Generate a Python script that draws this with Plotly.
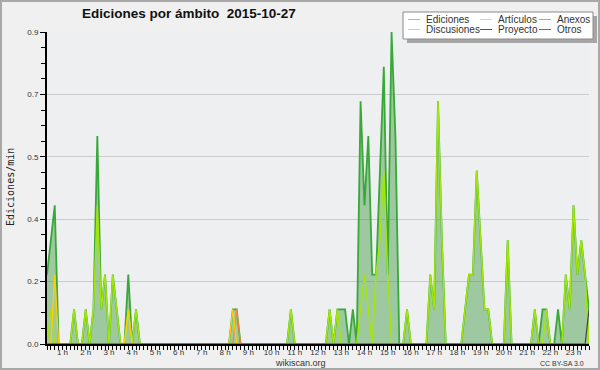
import plotly.graph_objects as go

# 10-minute bins (index k -> time k*10 min), visible from k=2 (00:20) to k=142 (23:40)
bin_start = 2
bin_end = 142

ediciones = [
    0.2, 0.3, 0.4, 0, 0, 0, 0, 0.1, 0, 0,            # k2-11
    0.1, 0, 0.1, 0.6, 0.1, 0.2, 0, 0.2, 0.1, 0,      # k12-21
    0, 0.2, 0, 0.1, 0, 0, 0, 0, 0, 0,                # k22-31
    0, 0, 0, 0, 0, 0, 0, 0, 0, 0,                    # k32-41
    0, 0, 0, 0, 0, 0, 0, 0, 0.1, 0.1,                # k42-51
    0, 0, 0, 0, 0, 0, 0, 0, 0, 0,                    # k52-61
    0, 0, 0, 0.1, 0, 0, 0, 0, 0, 0,                  # k62-71
    0, 0, 0, 0.1, 0, 0.1, 0.1, 0.1, 0, 0.1,          # k72-81
    0, 0.7, 0.4, 0.6, 0.2, 0.2, 0.5, 0.8, 0.2, 0.9,  # k82-91
    0.6, 0, 0, 0.1, 0, 0, 0, 0, 0, 0.2,              # k92-101
    0.1, 0.7, 0.3, 0, 0, 0, 0, 0, 0.1, 0.2,          # k102-111
    0.2, 0.5, 0.3, 0.1, 0.1, 0, 0, 0, 0, 0.3,        # k112-121
    0, 0, 0, 0, 0, 0, 0.1, 0, 0.1, 0.1,              # k122-131
    0, 0, 0.1, 0, 0.2, 0.1, 0.4, 0.2, 0.3, 0.2,      # k132-141
    0.1,                                             # k142
]

articulos = [
    0, 0.1, 0, 0, 0, 0, 0, 0.1, 0, 0,
    0.1, 0, 0.1, 0.4, 0.1, 0.2, 0, 0.2, 0.1, 0,
    0, 0.1, 0, 0.1, 0, 0, 0, 0, 0, 0,
    0, 0, 0, 0, 0, 0, 0, 0, 0, 0,
    0, 0, 0, 0, 0, 0, 0, 0, 0, 0,
    0, 0, 0, 0, 0, 0, 0, 0, 0, 0,
    0, 0, 0, 0.1, 0, 0, 0, 0, 0, 0,
    0, 0, 0, 0.1, 0, 0.1, 0, 0, 0, 0,
    0, 0.1, 0.2, 0.1, 0, 0.2, 0.3, 0.5, 0.2, 0,
    0, 0, 0, 0.1, 0, 0, 0, 0, 0, 0.2,
    0.1, 0.7, 0.3, 0, 0, 0, 0, 0, 0.1, 0.2,
    0.2, 0.5, 0.3, 0.1, 0.1, 0, 0, 0, 0, 0.3,
    0, 0, 0, 0, 0, 0, 0.1, 0, 0, 0.1,
    0, 0, 0, 0, 0.2, 0.1, 0.4, 0.2, 0.3, 0.2,
    0,
]

# sparse series: bin index -> value
discusiones_vals = {4: 0.2, 23: 0.1, 50: 0.1}
anexos_vals = {51: 0.1}
proyecto_vals = {142: 0.1}
otros_vals = {}

hour_ticks = list(range(1, 24))
hour_labels = [f"{h} h" for h in hour_ticks]

y_ticks = [0, 0.18, 0.36, 0.54, 0.72, 0.9]
y_labels = ["0.0", "0.2", "0.4", "0.5", "0.7", "0.9"]

legend_items = [
    ("Ediciones", "#8ccf8c"), ("Artículos", "#ccee55"), ("Anexos", "#ff8a55"),
    ("Discusiones", "#ffcc44"), ("Proyecto", "#555555"), ("Otros", "#9944ee"),
]

# ---------------------------------------------------------------
times = [k / 6 for k in range(bin_start, bin_end + 1)]


def sparse(d):
    return [d.get(k, 0.0) for k in range(bin_start, bin_end + 1)]


discusiones = sparse(discusiones_vals)
anexos = sparse(anexos_vals)
proyecto = sparse(proyecto_vals)
otros = sparse(otros_vals)

W, H = 600, 370
L, R, T, B = 47, 589, 32, 344


def px(x):
    return (x - L) / (R - L)


def py(y):
    return (B - y) / (B - T)


fig = go.Figure()
fig.add_trace(go.Scatter(x=times, y=ediciones, mode="lines",
                         line=dict(color="#38a838", width=1.8),
                         fill="tozeroy", fillcolor="rgba(34,139,34,0.39)"))
fig.add_trace(go.Scatter(x=times, y=articulos, mode="lines",
                         line=dict(color="#a3e60a", width=1.5)))
fig.add_trace(go.Scatter(x=times, y=anexos, mode="lines",
                         line=dict(color="#ff8040", width=1.2)))
fig.add_trace(go.Scatter(x=times, y=discusiones, mode="lines",
                         line=dict(color="#ffcc00", width=1.4)))
fig.add_trace(go.Scatter(x=times, y=proyecto, mode="lines",
                         line=dict(color="#444444", width=1.2)))
fig.add_trace(go.Scatter(x=times, y=otros, mode="lines",
                         line=dict(color="#9933ff", width=1.2)))

font_main = "Liberation Sans, Arial, sans-serif"

fig.update_layout(
    width=W, height=H,
    margin=dict(l=L, r=W - R, t=T, b=H - B, pad=0),
    paper_bgcolor="#f0f0f0", plot_bgcolor="#eeeff1",
    showlegend=False,
    font=dict(family=font_main, size=8, color="#333333"),
)

fig.update_xaxes(
    range=[bin_start / 6, bin_end / 6],
    tickmode="array", tickvals=hour_ticks, ticktext=hour_labels,
    ticks="outside", ticklen=4, tickwidth=1, tickcolor="#000000",
    ticklabelstandoff=-5,
    showline=True, linecolor="#000000", linewidth=2,
    showgrid=False, zeroline=False,
    tickfont=dict(size=8, color="#333333", family=font_main),
    minor=dict(dtick=1 / 6, tick0=0, ticks="outside", ticklen=4,
               tickcolor="#000000", tickwidth=1, showgrid=False),
)

fig.update_yaxes(
    range=[0, 0.9],
    tickmode="array", tickvals=y_ticks, ticktext=y_labels,
    ticks="outside", ticklen=5, tickwidth=1, tickcolor="#000000",
    showline=True, linecolor="#000000", linewidth=2,
    showgrid=True, gridcolor="#cccccc", gridwidth=1, zeroline=False,
    tickfont=dict(size=8, color="#333333", family=font_main),
    minor=dict(dtick=0.045, tick0=0, ticks="outside", ticklen=4,
               tickcolor="#000000", tickwidth=1, showgrid=False),
)

shapes = []
annotations = []

# outer frame
shapes.append(dict(type="rect", xref="paper", yref="paper",
                   x0=px(1), x1=px(599), y0=py(1), y1=py(369),
                   line=dict(color="#a8a8a8", width=2), layer="above"))

# legend box with shadow
shapes.append(dict(type="rect", xref="paper", yref="paper",
                   x0=px(407), x1=px(597), y0=py(16), y1=py(43),
                   fillcolor="#a6a6a6", line=dict(width=0), layer="above"))
shapes.append(dict(type="rect", xref="paper", yref="paper",
                   x0=px(403), x1=px(593), y0=py(12), y1=py(39),
                   fillcolor="#ffffff", line=dict(color="#8a8a8a", width=1), layer="above"))

col_x = [408, 480, 539]
row_y = [19.5, 29.5]
for i, (name, col) in enumerate(legend_items):
    r, c = divmod(i, 3)
    x0 = col_x[c]
    y0 = row_y[r]
    shapes.append(dict(type="line", xref="paper", yref="paper",
                       x0=px(x0), x1=px(x0 + 12), y0=py(y0), y1=py(y0),
                       line=dict(color=col, width=1), layer="above"))
    annotations.append(dict(xref="paper", yref="paper", x=px(x0 + 16), y=py(y0),
                            text=name, showarrow=False, xanchor="left", yanchor="middle",
                            font=dict(family=font_main, size=10, color="#333333")))

# title
annotations.append(dict(xref="paper", yref="paper", x=px(189), y=py(14),
                        text="<b>Ediciones por ámbito\u00a0\u00a02015-10-27</b>", showarrow=False,
                        xanchor="center", yanchor="middle",
                        font=dict(family=font_main, size=13.5, color="#111111")))
# y-axis title
annotations.append(dict(xref="paper", yref="paper", x=px(10), y=py(187),
                        text="Ediciones/min", showarrow=False, textangle=-90,
                        xanchor="center", yanchor="middle",
                        font=dict(family="DejaVu Sans Mono, monospace", size=10, color="#222222")))
# footer
annotations.append(dict(xref="paper", yref="paper", x=px(300), y=py(363),
                        text="wikiscan.org", showarrow=False,
                        xanchor="center", yanchor="middle",
                        font=dict(family=font_main, size=9, color="#333333")))
annotations.append(dict(xref="paper", yref="paper", x=px(586), y=py(363),
                        text="CC BY-SA 3.0", showarrow=False,
                        xanchor="right", yanchor="middle",
                        font=dict(family=font_main, size=7, color="#333333")))

fig.update_layout(shapes=shapes, annotations=annotations)

fig.write_html("out.html", config={"displayModeBar": False},
               post_script="document.body.style.margin='0';document.body.style.padding='0';")
